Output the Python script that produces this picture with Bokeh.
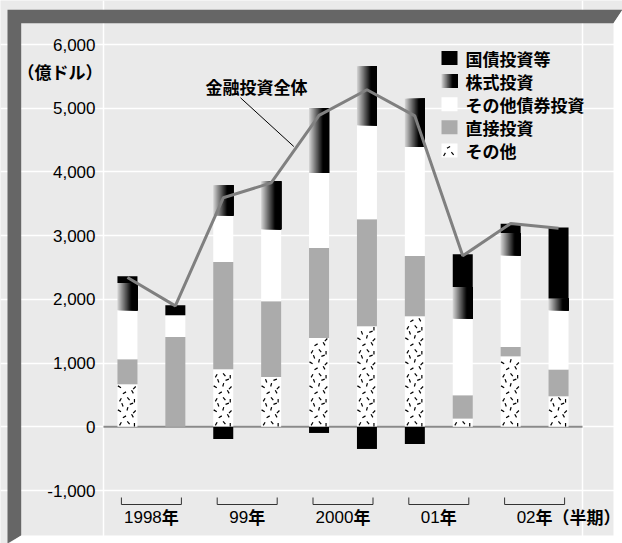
import numpy as np
from bokeh.plotting import figure
from bokeh.models import (ColumnDataSource, Label, Grid, NumeralTickFormatter,
                          FixedTicker, Range1d)
from bokeh.embed import file_html
from bokeh.resources import INLINE

# ---------------- data (億ドル) ----------------
periods = ["1998年上期", "1998年下期", "99年上期", "99年下期", "2000年上期",
           "2000年下期", "01年上期", "01年下期", "02年上期", "02年下期"]
year_nums = ["1998", "99", "2000", "01", "02"]
year_sufs = ["年", "年", "年", "年", "年（半期）"]
series_names = ["国債投資等", "株式投資", "その他債券投資", "直接投資", "その他"]

govt = [105, 157, -191, 0, -97, -348, -270, 513, 147, 1114]        # 国債投資等
equity = [428, 0, 471, 753, 1020, 926, 759, 496, 350, 184]          # 株式投資
other_bonds = [769, 340, 733, 1130, 1177, 1475, 1710, 1203, 1439, 930]  # その他債券投資
direct = [392, 1409, 1683, 1188, 1412, 1679, 946, 366, 146, 419]    # 直接投資
others = [667, 0, 902, 781, 1393, 1577, 1734, 129, 1106, 479]       # その他
total = [2342, 1898, 3594, 3828, 4887, 5290, 4879, 2683, 3190, 3117]  # 金融投資全体
y_ticks = [-1000, 0, 1000, 2000, 3000, 4000, 5000, 6000]

# ---------------- layout constants ----------------
W, H = 622, 543
PX0, PX1, PY0, PY1 = 103, 582, 44, 490      # plot area in canvas pixels
XMIN, XMAX, YMIN, YMAX = -0.5, 9.5, -1000, 6000
BG = "#eaeaea"
CJK = "Noto Sans CJK JP"
LAT = "Liberation Sans"
PXU = (PX1 - PX0) / (XMAX - XMIN)   # pixels per x unit
UY = (YMAX - YMIN) / (PY1 - PY0)    # y units per pixel


def X(px):
    return XMIN + (px - PX0) / PXU


def Y(py):
    return YMIN + (PY1 - py) * UY


n = len(periods)
x = np.arange(n, dtype=float)

# stacking: bottom -> top
stack_order = [others, direct, other_bonds, equity, govt]
pos = np.zeros(n)
neg = np.zeros(n)
bot, top = [], []
for s in stack_order:
    s = np.array(s, dtype=float)
    b = np.where(s >= 0, pos, neg)
    t = b + s
    pos = np.where(s >= 0, t, pos)
    neg = np.where(s < 0, t, neg)
    bot.append(b)
    top.append(t)

src = ColumnDataSource(dict(
    x=x,
    b0=bot[0], t0=top[0], b1=bot[1], t1=top[1], b2=bot[2], t2=top[2],
    b3=bot[3], t3=top[3], b4=bot[4], t4=top[4], total=total))

p = figure(width=W, height=H, x_range=Range1d(X(0), X(W)), y_range=Range1d(Y(H), Y(0)),
           output_backend="svg", toolbar_location=None, title=None,
           x_axis_location=None, y_axis_location="left",
           min_border=0, min_border_left=0, min_border_right=0,
           min_border_top=0, min_border_bottom=0,
           background_fill_color=BG, border_fill_color=BG, outline_line_color=None)

# bevelled frame around the whole chart
p.patch(x=[X(7), X(622), X(613), X(20.7), X(20.7), X(7)],
        y=[Y(9.3), Y(9.3), Y(22.7), Y(22.7), Y(535), Y(543)],
        fill_color="#666666", line_color=None)
p.patch(x=[X(622), X(623), X(623), X(7), X(20.7), X(613), X(613)],
        y=[Y(9.3), Y(9.3), Y(544), Y(544), Y(535), Y(535), Y(22.7)],
        fill_color="white", line_color=None)

# y axis drawn at the left edge of the plot area
ax = p.yaxis[0]
ax.fixed_location = XMIN
ax.ticker = FixedTicker(ticks=y_ticks)
ax.formatter = NumeralTickFormatter(format="0,0")
ax.axis_line_color = None
ax.major_tick_line_color = None
ax.minor_tick_line_color = None
ax.major_tick_out = 0
ax.major_tick_in = 0
ax.major_label_standoff = 8
ax.major_label_text_font = LAT
ax.major_label_text_font_size = "17px"
ax.major_label_text_color = "black"

p.xgrid.grid_line_color = None
p.ygrid.grid_line_color = "white"
p.ygrid.grid_line_width = 1.5
p.ygrid.bounds = (XMIN, XMAX)
p.add_layout(Grid(dimension=0, ticker=FixedTicker(ticks=[XMIN, XMAX]),
                  bounds=(YMIN, YMAX), grid_line_color="white", grid_line_width=1.5))

# zero line
p.segment(x0=[XMIN], y0=[0], x1=[XMAX], y1=[0], line_color="#8a8a8a", line_width=2)

BW = 20 / PXU
GRAY = "#ababab"

# speckle texture: short dashes at fixed spots of a 20x24 px tile
TILE_H = 24
SPECKLE = [(3, 3, 60), (11, 4, -50), (17, 2, 90), (7, 10, 30), (15, 11, -60),
           (2, 16, -30), (10, 18, 75), (17, 15, 45), (5, 22, -70), (14, 23, 20)]


def speckles(xl, yb, wpx, hpx):
    """Dash segments filling a box whose left/bottom are in data units, size in px."""
    x0s, y0s, x1s, y1s = [], [], [], []
    for t in range(int(np.ceil(hpx / TILE_H))):
        for dx, dy, a in SPECKLE:
            ypx = t * TILE_H + dy
            if dx > wpx - 1.5 or ypx > hpx - 1.5:
                continue
            r = np.radians(a)
            hx, hy = 1.8 * np.cos(r), 1.8 * np.sin(r)
            x0s.append(xl + (dx - hx) / PXU)
            x1s.append(xl + (dx + hx) / PXU)
            y0s.append(yb + (ypx - hy) * UY)
            y1s.append(yb + (ypx + hy) * UY)
    return x0s, y0s, x1s, y1s


# その他 (speckled white)
p.vbar(x="x", width=BW, bottom="b0", top="t0", source=src, fill_color="white",
       line_color=None)
sp = [[], [], [], []]
for i in range(n):
    hpx = (top[0][i] - bot[0][i]) / UY
    if hpx > 0:
        for acc, vals in zip(sp, speckles(x[i] - BW / 2, bot[0][i], 20, hpx)):
            acc.extend(vals)
p.segment(x0=sp[0], y0=sp[1], x1=sp[2], y1=sp[3], line_color="black", line_width=1.2)

# 直接投資
p.vbar(x="x", width=BW, bottom="b1", top="t1", source=src, fill_color=GRAY, line_color=None)
# その他債券投資
p.vbar(x="x", width=BW, bottom="b2", top="t2", source=src, fill_color="white", line_color=None)


def grad_color(t):
    g = 215 * (1 - t / 0.7)
    g = int(max(0, min(255, g)))
    return "#%02x%02x%02x" % (g, g, g)


NS = 20
# 株式投資 (horizontal gradient, built from overlapping strips)
for j in range(NS):
    left = -BW / 2 + j * BW / NS
    right = BW / 2
    c = grad_color((j + 0.5) / NS)
    p.vbar(x=x + (left + right) / 2, width=right - left, bottom=bot[3], top=top[3],
           fill_color=c, line_color=None)
# 国債投資等
p.vbar(x="x", width=BW, bottom="b4", top="t4", source=src, fill_color="black", line_color=None)

# 金融投資全体 line
p.line(x="x", y="total", source=src, line_color="#808080", line_width=3)

# annotation for the line
p.add_layout(Label(x=X(256), y=Y(85.5), text="金融投資全体", text_font=CJK,
                   text_font_style="bold", text_font_size="17px", text_align="center",
                   text_baseline="middle", text_color="black"))
p.segment(x0=[X(240)], y0=[Y(97.3)], x1=[X(293.3)], y1=[Y(146)],
          line_color="black", line_width=1)

# y-axis unit label
p.add_layout(Label(x=X(102), y=Y(70.5), text="（億ドル）", text_font=CJK,
                   text_font_style="bold", text_font_size="17px", text_align="right",
                   text_baseline="middle", text_color="black"))

# legend (manual)
leg_fills = ["black", None, "white", GRAY, "white"]
for i, name in enumerate(series_names):
    cy = 57.5 + 23.1 * i
    l, r, tpx, bpx = 441, 457, cy - 7, cy + 7
    if i == 1:
        for j in range(NS):
            ll = l + j * (r - l) / NS
            p.quad(left=[X(ll)], right=[X(r)], top=[Y(tpx)], bottom=[Y(bpx)],
                   fill_color=grad_color((j + 0.5) / NS), line_color=None)
    else:
        p.quad(left=[X(l)], right=[X(r)], top=[Y(tpx)], bottom=[Y(bpx)],
               fill_color=leg_fills[i] or "white", line_color=None)
        if i == 4:
            lx0, ly0, lx1, ly1 = speckles(X(l), Y(bpx), r - l, bpx - tpx)
            p.segment(x0=lx0, y0=ly0, x1=lx1, y1=ly1, line_color="black", line_width=1.2)
    p.add_layout(Label(x=X(465), y=Y(cy), text=name, text_font=CJK, text_font_style="bold",
                       text_font_size="17px", text_align="left", text_baseline="middle",
                       text_color="black"))

# group brackets and labels below the plot area
half = 30 / PXU
bx, by = [], []
for k, (num, suf) in enumerate(zip(year_nums, year_sufs)):
    cx = 2 * k + 0.5
    bx.append([cx - half, cx - half, cx + half, cx + half])
    by.append([Y(497), Y(504), Y(504), Y(497)])
    wn = len(num) * 0.556 * 17
    split = cx + ((wn - 17) / 2) / PXU
    p.add_layout(Label(x=split, y=Y(516), text=num, text_font=LAT, text_font_size="17px",
                       text_align="right", text_baseline="middle", text_color="black"))
    p.add_layout(Label(x=split, y=Y(516), text=suf, text_font=CJK, text_font_style="bold",
                       text_font_size="17px", text_align="left", text_baseline="middle",
                       text_color="black"))
p.multi_line(xs=bx, ys=by, line_color="#333333", line_width=1)

open("out.html", "w").write(file_html(p, INLINE))
